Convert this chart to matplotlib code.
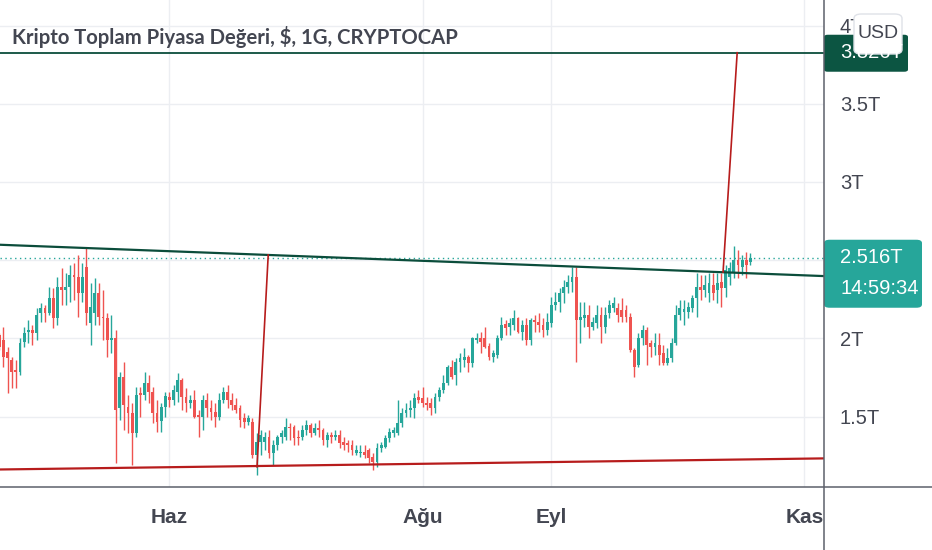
import pandas as pd
import matplotlib
matplotlib.use("Agg")
import matplotlib.pyplot as plt
from matplotlib.lines import Line2D
from matplotlib.patches import FancyBboxPatch

W, H = 932, 550

# daily candles of total crypto market cap (trillion $)
start = pd.Timestamp("2021-04-21")
opens = [2.022, 1.990, 1.914, 1.863, 1.799, 1.786, 1.978, 2.042, 2.054, 2.035,
         2.163, 2.195, 2.163, 2.259, 2.131, 2.329, 2.310, 2.329, 2.406, 2.393,
         2.291, 2.457, 2.099, 2.163, 2.291, 2.137, 2.131, 1.990, 2.003, 1.556,
         1.754, 1.562, 1.524, 1.396, 1.652, 1.639, 1.716, 1.658, 1.524, 1.470,
         1.560, 1.628, 1.607, 1.660, 1.735, 1.628, 1.586, 1.607, 1.511, 1.500,
         1.607, 1.554, 1.532, 1.500, 1.607, 1.660, 1.607, 1.575, 1.554, 1.490,
         1.468, 1.468, 1.256, 1.341, 1.341, 1.372, 1.266, 1.319, 1.372, 1.372,
         1.437, 1.437, 1.372, 1.372, 1.415, 1.447, 1.394, 1.426, 1.415, 1.351,
         1.383, 1.372, 1.383, 1.341, 1.330, 1.319, 1.266, 1.266, 1.277, 1.288,
         1.245, 1.213, 1.298, 1.309, 1.362, 1.394, 1.394, 1.458, 1.522, 1.543,
         1.554, 1.628, 1.618, 1.586, 1.586, 1.554, 1.628, 1.671, 1.714, 1.820,
         1.767, 1.852, 1.863, 1.884, 1.842, 1.990, 2.001, 2.001, 1.952, 1.884,
         1.895, 2.001, 2.093, 2.076, 2.086, 2.129, 2.044, 2.086, 1.990, 2.118,
         2.107, 2.086, 2.054, 2.097, 2.214, 2.235, 2.289, 2.331, 2.363, 2.395,
         2.118, 2.129, 2.150, 2.075, 2.097, 2.150, 2.075, 2.161, 2.193, 2.193,
         2.182, 2.180, 2.139, 1.927, 1.831, 2.001, 2.054, 1.969, 1.948, 1.958,
         1.905, 1.842, 1.873, 1.970, 2.150, 2.170, 2.171, 2.193, 2.257, 2.331,
         2.310, 2.289, 2.342, 2.310, 2.363, 2.321, 2.395, 2.417, 2.502, 2.459,
         2.502, 2.491]
highs = [2.035, 2.073, 1.946, 1.882, 1.863, 2.003, 2.073, 2.118, 2.086, 2.195,
         2.227, 2.214, 2.329, 2.323, 2.393, 2.450, 2.419, 2.470, 2.482, 2.534,
         2.482, 2.578, 2.355, 2.387, 2.355, 2.310, 2.163, 2.150, 2.054, 1.786,
         1.850, 1.639, 1.588, 1.690, 1.690, 1.786, 1.767, 1.690, 1.607, 1.590,
         1.655, 1.660, 1.703, 1.780, 1.748, 1.684, 1.639, 1.671, 1.543, 1.639,
         1.652, 1.607, 1.588, 1.652, 1.692, 1.703, 1.652, 1.620, 1.575, 1.524,
         1.511, 1.492, 1.396, 1.415, 1.404, 1.415, 1.351, 1.383, 1.415, 1.492,
         1.458, 1.447, 1.415, 1.447, 1.479, 1.458, 1.458, 1.479, 1.426, 1.404,
         1.404, 1.415, 1.415, 1.372, 1.351, 1.351, 1.319, 1.319, 1.319, 1.300,
         1.266, 1.330, 1.341, 1.383, 1.426, 1.437, 1.607, 1.554, 1.586, 1.607,
         1.650, 1.671, 1.692, 1.628, 1.618, 1.650, 1.692, 1.767, 1.831, 1.863,
         1.873, 1.905, 1.937, 1.895, 2.012, 2.033, 2.044, 2.076, 1.969, 1.927,
         2.022, 2.139, 2.118, 2.129, 2.182, 2.139, 2.118, 2.129, 2.129, 2.150,
         2.161, 2.129, 2.161, 2.267, 2.299, 2.321, 2.374, 2.406, 2.459, 2.459,
         2.235, 2.235, 2.214, 2.139, 2.214, 2.203, 2.203, 2.246, 2.267, 2.225,
         2.257, 2.214, 2.161, 1.937, 2.033, 2.086, 2.075, 1.990, 2.033, 2.033,
         1.958, 1.937, 2.001, 2.214, 2.246, 2.246, 2.235, 2.278, 2.417, 2.406,
         2.406, 2.417, 2.417, 2.417, 2.417, 2.470, 2.491, 2.591, 2.565, 2.534,
         2.555, 2.544]
lows = [1.927, 1.818, 1.652, 1.684, 1.684, 1.767, 1.946, 1.971, 1.958, 1.990,
        2.105, 2.105, 2.150, 2.067, 2.086, 2.214, 2.214, 2.233, 2.246, 2.137,
        2.233, 2.086, 1.958, 2.086, 2.086, 1.990, 1.882, 1.907, 1.204, 1.479,
        1.415, 1.396, 1.192, 1.370, 1.498, 1.607, 1.588, 1.460, 1.403, 1.400,
        1.500, 1.564, 1.575, 1.596, 1.543, 1.532, 1.556, 1.492, 1.372, 1.415,
        1.500, 1.479, 1.437, 1.479, 1.586, 1.554, 1.543, 1.524, 1.437, 1.428,
        1.447, 1.236, 1.128, 1.256, 1.288, 1.236, 1.192, 1.288, 1.330, 1.351,
        1.351, 1.319, 1.319, 1.351, 1.383, 1.372, 1.383, 1.372, 1.319, 1.309,
        1.330, 1.351, 1.300, 1.288, 1.277, 1.256, 1.256, 1.245, 1.236, 1.204,
        1.160, 1.181, 1.277, 1.298, 1.341, 1.372, 1.383, 1.437, 1.500, 1.500,
        1.490, 1.586, 1.564, 1.543, 1.511, 1.522, 1.600, 1.650, 1.703, 1.740,
        1.703, 1.788, 1.820, 1.788, 1.820, 1.969, 1.905, 1.937, 1.863, 1.852,
        1.873, 1.990, 2.022, 2.022, 2.054, 2.033, 1.990, 1.958, 1.958, 2.044,
        2.044, 2.012, 2.022, 2.076, 2.182, 2.171, 2.225, 2.289, 2.299, 1.852,
        1.969, 2.075, 2.001, 2.054, 2.065, 1.969, 2.033, 2.129, 2.171, 2.107,
        2.107, 2.107, 1.916, 1.756, 1.820, 1.958, 1.831, 1.884, 1.895, 1.831,
        1.831, 1.831, 1.852, 1.958, 2.118, 2.086, 2.129, 2.171, 2.139, 2.246,
        2.267, 2.235, 2.246, 2.225, 2.203, 2.267, 2.342, 2.385, 2.385, 2.406,
        2.385, 2.470]
closes = [1.946, 1.882, 1.876, 1.786, 1.786, 1.971, 2.035, 2.054, 2.035, 2.150,
          2.195, 2.163, 2.259, 2.131, 2.329, 2.310, 2.329, 2.406, 2.393, 2.291,
          2.393, 2.163, 2.201, 2.291, 2.137, 2.131, 1.990, 2.003, 1.543, 1.754,
          1.575, 1.524, 1.396, 1.639, 1.639, 1.716, 1.658, 1.524, 1.466, 1.560,
          1.630, 1.607, 1.671, 1.735, 1.628, 1.586, 1.607, 1.500, 1.496, 1.607,
          1.554, 1.532, 1.500, 1.607, 1.660, 1.607, 1.575, 1.543, 1.479, 1.468,
          1.490, 1.256, 1.341, 1.383, 1.372, 1.266, 1.319, 1.372, 1.394, 1.437,
          1.426, 1.362, 1.362, 1.415, 1.447, 1.394, 1.426, 1.415, 1.351, 1.383,
          1.372, 1.383, 1.330, 1.319, 1.319, 1.288, 1.288, 1.277, 1.256, 1.234,
          1.213, 1.298, 1.319, 1.362, 1.404, 1.415, 1.458, 1.522, 1.543, 1.554,
          1.618, 1.607, 1.586, 1.575, 1.554, 1.628, 1.671, 1.714, 1.820, 1.756,
          1.852, 1.873, 1.884, 1.842, 2.001, 2.001, 1.980, 1.948, 1.884, 1.905,
          2.001, 2.086, 2.065, 2.097, 2.129, 2.044, 2.086, 1.990, 2.118, 2.107,
          2.086, 2.054, 2.107, 2.214, 2.235, 2.289, 2.331, 2.363, 2.395, 2.118,
          2.139, 2.150, 2.075, 2.107, 2.150, 2.075, 2.150, 2.214, 2.225, 2.150,
          2.139, 2.140, 1.927, 1.820, 2.001, 2.054, 1.958, 1.948, 1.969, 1.895,
          1.842, 1.873, 1.970, 2.150, 2.193, 2.190, 2.203, 2.257, 2.331, 2.310,
          2.342, 2.353, 2.289, 2.353, 2.321, 2.438, 2.449, 2.502, 2.470, 2.502,
          2.470, 2.516]

month_names = ["Haz", "Ağu", "Eyl", "Kas"]
month_dates = ["2021-06-01", "2021-08-01", "2021-09-01", "2021-11-01"]
price_ticks = [1.5, 2, 2.5, 3, 3.5, 4]
price_labels = ["1.5T", "2T", "", "3T", "3.5T", "4T"]

# user drawings: (day number from start, value)
resist_days, resist_vals = [21, 139], [2.578, 2.459]
support_days, support_vals = [62, 90], [1.185, 1.195]
measure1_days, measure1_vals = [62.1, 64.8], [1.18, 2.534]
measure2_days, measure2_vals = [174.4, 177.8], [2.425, 3.826]
target_val = 3.826
last_price = 2.516
countdown = "14:59:34"
title = "Kripto Toplam Piyasa Değeri, $, 1G, CRYPTOCAP"

GREEN = "#26a69a"
RED = "#ef5350"
DKGREEN = "#0b4d3b"
DKRED = "#b71c1c"
TXT = "#434651"
sans = ["Liberation Sans", "DejaVu Sans"]

fig = plt.figure(figsize=(W / 100, H / 100), dpi=100)
ax = fig.add_axes([0, 1 - 487 / H, 824 / W, 487 / H])
ax.set_xlim(0.169, 198.72)
ax.set_ylim(1.051, 4.163)

days = list(range(len(closes)))
cols = [GREEN if c >= o else RED for o, c in zip(opens, closes)]
bottoms = [min(o, c) for o, c in zip(opens, closes)]
heights = [max(abs(c - o), 0.006) for o, c in zip(opens, closes)]
ax.vlines(days, lows, highs, colors=cols, lw=1, zorder=3)
ax.bar(days, heights, bottom=bottoms, width=0.68, color=cols, lw=0, zorder=4)

# drawings
ax.axline((resist_days[0], resist_vals[0]), (resist_days[1], resist_vals[1]),
          color=DKGREEN, lw=1.6, zorder=5)
ax.axline((support_days[0], support_vals[0]), (support_days[1], support_vals[1]),
          color=DKRED, lw=1.6, zorder=5)
ax.axhline(target_val, color=DKGREEN, lw=1.3, zorder=5)
ax.plot(measure1_days, measure1_vals, color=DKRED, lw=1.2, zorder=5)
ax.plot(measure2_days, measure2_vals, color=DKRED, lw=1.2, zorder=5)
ax.axhline(last_price, color=GREEN, lw=1, ls=(0, (1, 2.5)), zorder=2)

# axes
month_pos = [(pd.Timestamp(d) - start).days for d in month_dates]
ax.set_xticks(month_pos, month_names)
ax.yaxis.tick_right()
ax.set_yticks(price_ticks, price_labels)
ax.tick_params(axis="y", length=0, pad=11.5, labelsize=14.5, labelcolor=TXT)
ax.tick_params(axis="x", length=0, pad=15, labelsize=15, labelcolor=TXT)
for lab in ax.get_xticklabels():
    lab.set_family(sans)
    lab.set_fontweight("bold")
for lab in ax.get_yticklabels():
    lab.set_family(sans)
ax.grid(color="#eceef2", lw=1, zorder=0)
for s in ax.spines.values():
    s.set_visible(False)

fig.add_artist(Line2D([0, 1], [1 - 487 / H] * 2, color="#5d606b", lw=1.1))
fig.add_artist(Line2D([824 / W] * 2, [0, 1], color="#5d606b", lw=1.1))

fig.text(12 / W, 1 - 37 / H, title, ha="left", va="center", fontsize=14.6,
         fontweight="bold", color=TXT, family=["Lato", "DejaVu Sans"])


def ypix(v):
    return H - ax.transData.transform((0, v))[1]


# target price label
yt = ypix(target_val)
fig.add_artist(FancyBboxPatch((824 / W, 1 - (yt + 19) / H), 84 / W, 37 / H,
                              boxstyle="round,pad=0,rounding_size=0.004",
                              fc="#0c5542", ec="none"))
fig.text(840 / W, 1 - yt / H, f"{target_val:.3f}T", ha="left", va="center",
         fontsize=14.5, color="white", family=sans)

# currency button
fig.add_artist(FancyBboxPatch((854 / W, 1 - 54 / H), 48 / W, 40 / H,
                              boxstyle="round,pad=0,rounding_size=0.008",
                              fc="white", ec="#dfe2e8", lw=1))
fig.text(878 / W, 1 - 34 / H, "USD", ha="center", va="center",
         fontsize=14, color=TXT, family=sans)

# last price label
yl = ypix(last_price)
fig.add_artist(FancyBboxPatch((824 / W, 1 - (yl + 50) / H), 98 / W, 68 / H,
                              boxstyle="round,pad=0,rounding_size=0.006",
                              fc=GREEN, ec="none"))
fig.text(840 / W, 1 - yl / H, f"{last_price:.3f}T", ha="left", va="center",
         fontsize=14.5, color="white", family=sans)
fig.text(840 / W, 1 - (yl + 31) / H, countdown, ha="left", va="center",
         fontsize=14.5, color="white", family=sans)

fig.savefig("out.png", dpi=100)
